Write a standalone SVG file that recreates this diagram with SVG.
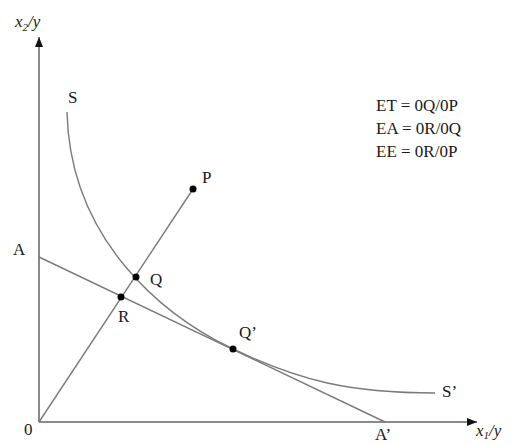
<svg xmlns="http://www.w3.org/2000/svg" width="512" height="444" viewBox="0 0 512 444">
<style>
.ln{fill:none;stroke:#7a7a7a;stroke-width:1.4}
.ax{fill:none;stroke:#8a8a8a;stroke-width:2}
.t{font-family:"Liberation Serif","Times New Roman",serif;font-size:17px;fill:#1a1a1a}
.i{font-style:italic}
.dot{fill:#000}
</style>
<defs>
<marker id="arr" viewBox="0 0 10 10" refX="10" refY="5" markerWidth="10" markerHeight="10" markerUnits="userSpaceOnUse" orient="auto">
<path d="M0,1 L10,5 L0,9 Z" fill="#111"/>
</marker>
</defs>
<rect width="512" height="444" fill="#fff"/>
<g id="connectors">
<path id="y-axis" class="ax" d="M39,422 L39,37" marker-end="url(#arr)"/>
<path id="x-axis" class="ax" d="M39,422 L477,422" marker-end="url(#arr)"/>
<path id="budget-line" class="ln" d="M39,257 L385,422"/>
<path id="ray" class="ln" d="M39,422 L193,189"/>
<path id="isoquant" class="ln" d="M67,112 C70,240 163,315.6 233,349 C300,381 350,393 435,393"/>
</g>
<g id="node-S"><text class="t" x="68" y="103">S</text></g>
<g id="node-S2"><text class="t" x="442" y="397">S’</text></g>
<g id="node-A"><text class="t" x="13" y="255">A</text></g>
<g id="node-A2"><text class="t" x="375" y="440">A’</text></g>
<g id="node-O"><text class="t" x="24" y="435">0</text></g>
<g id="node-P"><circle class="dot" cx="193" cy="189" r="3.5"/><text class="t" x="202" y="183">P</text></g>
<g id="node-Q"><circle class="dot" cx="136" cy="277" r="3.5"/><text class="t" x="150" y="285">Q</text></g>
<g id="node-R"><circle class="dot" cx="121" cy="297" r="3.5"/><text class="t" x="118" y="322">R</text></g>
<g id="node-Q2"><circle class="dot" cx="233" cy="349" r="3.5"/><text class="t" x="239" y="338">Q’</text></g>
<g id="label-y"><text class="t i" x="15" y="27">x<tspan font-size="11" dy="4">2</tspan><tspan dy="-4">/y</tspan></text></g>
<g id="label-x"><text class="t i" x="476" y="436">x<tspan font-size="11" dy="3">1</tspan><tspan dy="-3">/y</tspan></text></g>
<g id="legend">
<text class="t" x="376" y="111">ET = 0Q/0P</text>
<text class="t" x="376" y="134">EA = 0R/0Q</text>
<text class="t" x="376" y="157">EE = 0R/0P</text>
</g>
</svg>
